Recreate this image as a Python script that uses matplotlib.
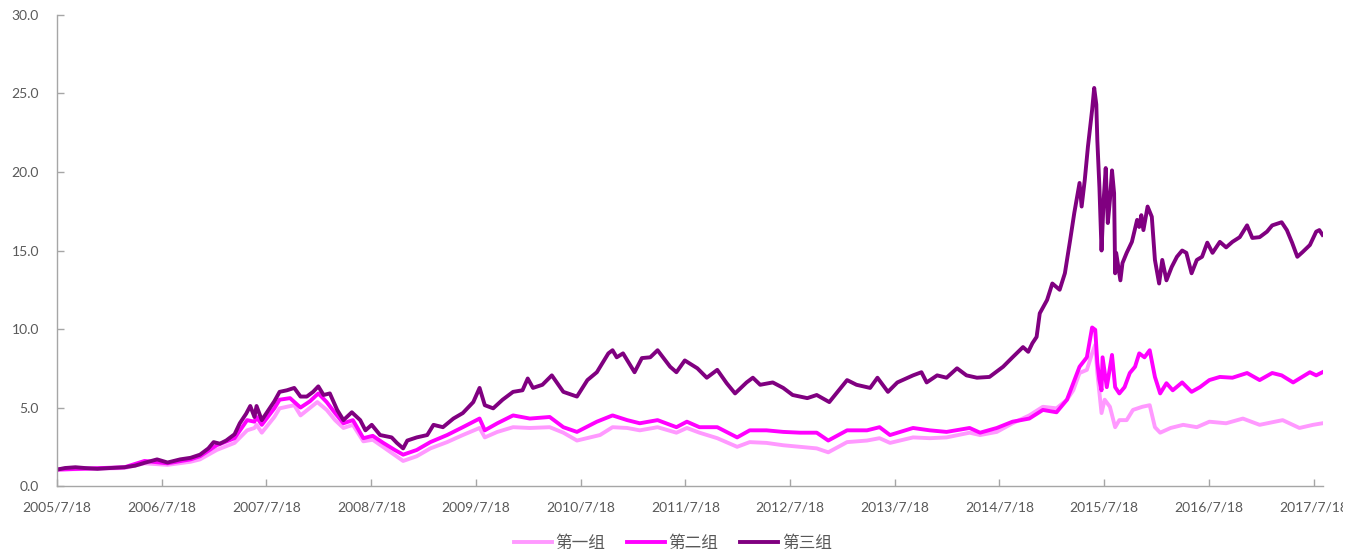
import matplotlib
matplotlib.use("Agg")
import matplotlib.pyplot as plt
from matplotlib.ticker import FormatStrFormatter
from matplotlib.transforms import Bbox, TransformedBbox

plt.rcParams['font.family'] = ['Lato', 'Noto Sans CJK SC', 'DejaVu Sans']

# x values are decimal years (2005.545 = 2005/7/18)
g1_x = [2005.545, 2006.19, 2006.38, 2006.60, 2006.82, 2006.91, 2007.07, 2007.24, 2007.36, 2007.43,
        2007.45, 2007.50, 2007.62, 2007.67, 2007.81, 2007.87, 2008.03, 2008.12, 2008.20, 2008.28,
        2008.37, 2008.47, 2008.56, 2008.70, 2008.85, 2008.98, 2009.11, 2009.27, 2009.42, 2009.58,
        2009.63, 2009.75, 2009.90, 2010.06, 2010.25, 2010.38, 2010.51, 2010.73, 2010.85, 2010.99,
        2011.11, 2011.28, 2011.46, 2011.56, 2011.68, 2011.85, 2012.04, 2012.16, 2012.32, 2012.48,
        2012.64, 2012.80, 2012.91, 2013.09, 2013.28, 2013.40, 2013.50, 2013.72, 2013.88, 2014.04,
        2014.26, 2014.36, 2014.52, 2014.67, 2014.83, 2014.96, 2015.09, 2015.19, 2015.25, 2015.31,
        2015.38, 2015.43, 2015.46, 2015.48, 2015.52, 2015.55, 2015.60, 2015.65, 2015.69, 2015.76,
        2015.82, 2015.91, 2015.98, 2016.03, 2016.08, 2016.18, 2016.30, 2016.43, 2016.55, 2016.71,
        2016.87, 2017.03, 2017.25, 2017.41, 2017.54, 2017.63]
g1_y = [1.05, 1.15, 1.45, 1.35, 1.55, 1.7, 2.3, 2.75, 3.55, 3.7,
        3.9, 3.4, 4.4, 4.95, 5.15, 4.5, 5.35, 4.85, 4.2, 3.7,
        3.9, 2.85, 2.95, 2.3, 1.6, 1.9, 2.4, 2.8, 3.25, 3.7,
        3.1, 3.45, 3.75, 3.7, 3.75, 3.4, 2.9, 3.25, 3.75, 3.7,
        3.55, 3.75, 3.4, 3.7, 3.4, 3.05, 2.5, 2.8, 2.75, 2.6,
        2.5, 2.4, 2.15, 2.8, 2.9, 3.05, 2.75, 3.1, 3.05, 3.1,
        3.4, 3.25, 3.45, 4.0, 4.5, 5.05, 4.95, 5.5, 6.1, 7.2,
        7.4, 8.45, 9.0, 7.2, 4.65, 5.5, 5.05, 3.75, 4.2, 4.2,
        4.85, 5.05, 5.15, 3.75, 3.4, 3.7, 3.9, 3.75, 4.1, 4.0,
        4.3, 3.9, 4.2, 3.7, 3.9, 4.0]

g2_x = [2005.545, 2006.19, 2006.38, 2006.60, 2006.82, 2006.91, 2007.07, 2007.24, 2007.36, 2007.43,
        2007.45, 2007.50, 2007.62, 2007.67, 2007.77, 2007.87, 2007.96, 2008.04, 2008.12, 2008.20,
        2008.28, 2008.37, 2008.47, 2008.56, 2008.66, 2008.77, 2008.85, 2008.98, 2009.11, 2009.27,
        2009.42, 2009.58, 2009.63, 2009.75, 2009.90, 2010.06, 2010.25, 2010.38, 2010.51, 2010.70,
        2010.85, 2010.99, 2011.11, 2011.28, 2011.46, 2011.56, 2011.68, 2011.85, 2012.04, 2012.16,
        2012.32, 2012.48, 2012.64, 2012.80, 2012.91, 2013.09, 2013.28, 2013.40, 2013.50, 2013.72,
        2013.88, 2014.04, 2014.26, 2014.36, 2014.52, 2014.67, 2014.83, 2014.96, 2015.09, 2015.19,
        2015.25, 2015.31, 2015.38, 2015.43, 2015.46, 2015.48, 2015.50, 2015.52, 2015.53, 2015.57,
        2015.62, 2015.65, 2015.69, 2015.74, 2015.79, 2015.84, 2015.88, 2015.93, 2015.98, 2016.03,
        2016.08, 2016.14, 2016.20, 2016.29, 2016.38, 2016.46, 2016.55, 2016.65, 2016.77, 2016.91,
        2017.03, 2017.15, 2017.24, 2017.35, 2017.51, 2017.57, 2017.63]
g2_y = [1.05, 1.2, 1.6, 1.45, 1.7, 1.9, 2.6, 3.05, 4.2, 4.1,
        4.4, 3.9, 4.95, 5.5, 5.6, 5.0, 5.4, 5.9, 5.35, 4.65,
        4.0, 4.2, 3.05, 3.2, 2.75, 2.3, 2.0, 2.3, 2.8, 3.25,
        3.75, 4.3, 3.55, 4.0, 4.5, 4.3, 4.4, 3.75, 3.45, 4.1,
        4.5, 4.2, 4.0, 4.2, 3.75, 4.1, 3.75, 3.75, 3.1, 3.55,
        3.55, 3.45, 3.4, 3.4, 2.9, 3.55, 3.55, 3.75, 3.25, 3.7,
        3.55, 3.45, 3.7, 3.4, 3.7, 4.1, 4.3, 4.85, 4.7, 5.5,
        6.55, 7.6, 8.2, 10.1, 9.95, 7.85, 6.75, 6.1, 8.2, 6.3,
        8.35, 6.3, 5.9, 6.3, 7.2, 7.6, 8.45, 8.2, 8.65, 6.95,
        5.9, 6.55, 6.1, 6.6, 6.0, 6.3, 6.75, 6.95, 6.9, 7.2,
        6.75, 7.2, 7.05, 6.6, 7.25, 7.05, 7.25]

g3_x = [2005.545, 2005.62, 2005.72, 2005.81, 2005.93, 2006.05, 2006.19, 2006.29, 2006.39, 2006.50,
        2006.60, 2006.72, 2006.82, 2006.91, 2006.99, 2007.04, 2007.10, 2007.16, 2007.24, 2007.29,
        2007.35, 2007.39, 2007.43, 2007.45, 2007.50, 2007.56, 2007.62, 2007.67, 2007.74, 2007.81,
        2007.87, 2007.93, 2007.99, 2008.04, 2008.09, 2008.15, 2008.22, 2008.28, 2008.36, 2008.44,
        2008.49, 2008.55, 2008.63, 2008.74, 2008.79, 2008.85, 2008.89, 2008.98, 2009.08, 2009.14,
        2009.23, 2009.33, 2009.42, 2009.52, 2009.58, 2009.63, 2009.71, 2009.80, 2009.90, 2009.99,
        2010.04, 2010.09, 2010.18, 2010.27, 2010.38, 2010.51, 2010.61, 2010.70, 2010.81, 2010.85,
        2010.89, 2010.95, 2011.06, 2011.13, 2011.21, 2011.28, 2011.40, 2011.46, 2011.54, 2011.66,
        2011.75, 2011.85, 2011.94, 2012.02, 2012.13, 2012.19, 2012.26, 2012.38, 2012.48, 2012.57,
        2012.71, 2012.80, 2012.92, 2013.09, 2013.18, 2013.31, 2013.38, 2013.48, 2013.57, 2013.72,
        2013.80, 2013.85, 2013.95, 2014.04, 2014.14, 2014.23, 2014.33, 2014.45, 2014.58, 2014.67,
        2014.77, 2014.82, 2014.86, 2014.90, 2014.93, 2015.00, 2015.05, 2015.12, 2015.17, 2015.22,
        2015.26, 2015.31, 2015.33, 2015.36, 2015.39, 2015.43, 2015.45, 2015.47, 2015.48, 2015.50,
        2015.52, 2015.54, 2015.56, 2015.58, 2015.60, 2015.62, 2015.64, 2015.65, 2015.66, 2015.70,
        2015.72, 2015.76, 2015.81, 2015.86, 2015.88, 2015.90, 2015.92, 2015.96, 2016.00, 2016.03,
        2016.07, 2016.10, 2016.14, 2016.19, 2016.24, 2016.29, 2016.33, 2016.38, 2016.43, 2016.48,
        2016.53, 2016.58, 2016.65, 2016.71, 2016.77, 2016.84, 2016.91, 2016.96, 2017.03, 2017.10,
        2017.15, 2017.24, 2017.29, 2017.34, 2017.39, 2017.44, 2017.51, 2017.57, 2017.60, 2017.63]
g3_y = [1.05, 1.15, 1.2, 1.15, 1.1, 1.15, 1.2, 1.3, 1.5, 1.7,
        1.5, 1.7, 1.8, 2.0, 2.4, 2.8, 2.7, 2.9, 3.3, 4.0,
        4.6, 5.1, 4.4, 5.1, 4.2, 4.8, 5.4, 6.0, 6.1, 6.25,
        5.7, 5.7, 6.0, 6.35, 5.8, 5.9, 4.85, 4.2, 4.7, 4.2,
        3.55, 3.9, 3.25, 3.1, 2.75, 2.4, 2.9, 3.1, 3.25, 3.9,
        3.75, 4.3, 4.65, 5.35, 6.25, 5.15, 4.95, 5.5, 6.0, 6.1,
        6.85, 6.25, 6.45, 7.05, 6.0, 5.7, 6.75, 7.25, 8.45, 8.65,
        8.2, 8.45, 7.25, 8.15, 8.2, 8.65, 7.6, 7.25, 8.0, 7.5,
        6.9, 7.4, 6.55, 5.9, 6.6, 6.9, 6.45, 6.6, 6.25, 5.8,
        5.6, 5.8, 5.35, 6.75, 6.45, 6.25, 6.9, 6.0, 6.6, 7.05,
        7.25, 6.6, 7.05, 6.9, 7.5, 7.05, 6.9, 6.95, 7.6, 8.2,
        8.85, 8.55, 9.1, 9.5, 11.0, 11.85, 12.9, 12.5, 13.55, 15.65,
        17.4, 19.3, 17.8, 19.5, 21.6, 23.95, 25.35, 24.3, 22.0, 19.0,
        15.0, 18.2, 20.25, 16.75, 18.2, 20.1, 18.65, 13.55, 14.85, 13.1,
        14.2, 14.85, 15.55, 16.95, 16.5, 17.25, 16.3, 17.8, 17.15, 14.4,
        12.9, 14.4, 13.1, 13.95, 14.6, 15.0, 14.85, 13.55, 14.4, 14.6,
        15.5, 14.85, 15.55, 15.2, 15.55, 15.85, 16.6, 15.8, 15.85, 16.2,
        16.6, 16.8, 16.3, 15.5, 14.6, 14.9, 15.35, 16.2, 16.3, 16.0]

series_names = ['第一组', '第二组', '第三组']
series_colors = ['#FF99FF', '#FF00FF', '#800080']

tick_years = list(range(2005, 2018))
tick_pos = [y + 0.545 for y in tick_years]
tick_labels = [f"{y}/7/18" for y in tick_years]

fig = plt.figure(figsize=(13.59, 5.53), dpi=100)
ax = fig.add_axes([0.042, 0.121, 0.9315, 0.852])

for xs, ys, name, col in zip([g1_x, g2_x, g3_x], [g1_y, g2_y, g3_y], series_names, series_colors):
    ax.plot(xs, ys, color=col, lw=2.8, label=name, solid_joinstyle='round')

ax.set_xlim(2005.545, 2017.635)
ax.set_ylim(0, 30)
ax.set_yticks(range(0, 31, 5))
ax.yaxis.set_major_formatter(FormatStrFormatter('%.1f'))
ax.set_xticks(tick_pos, tick_labels)

for side in ['top', 'right']:
    ax.spines[side].set_visible(False)
for side in ['left', 'bottom']:
    ax.spines[side].set_color('#A6A6A6')
    ax.spines[side].set_linewidth(1.0)

ax.tick_params(axis='both', direction='in', length=5, width=1, color='#A6A6A6',
               labelcolor='#595959', labelsize=10)
ax.tick_params(axis='y', pad=13)
ax.tick_params(axis='x', pad=11)

# last date label is cut at the right edge like the reference
clip = TransformedBbox(Bbox([[0, 0], [1343 / 1359, 1]]), fig.transFigure)
for lab in ax.get_xticklabels():
    lab.set_clip_box(clip)
    lab.set_clip_on(True)

fig.legend(loc='center', bbox_to_anchor=(0.495, 0.018), ncol=3, frameon=False,
           prop={'family': ['Noto Sans CJK SC', 'DejaVu Sans'], 'size': 12},
           labelcolor='#595959', handlelength=2.3, handletextpad=0.2, columnspacing=1.3)

fig.savefig('out.png', dpi=100)
